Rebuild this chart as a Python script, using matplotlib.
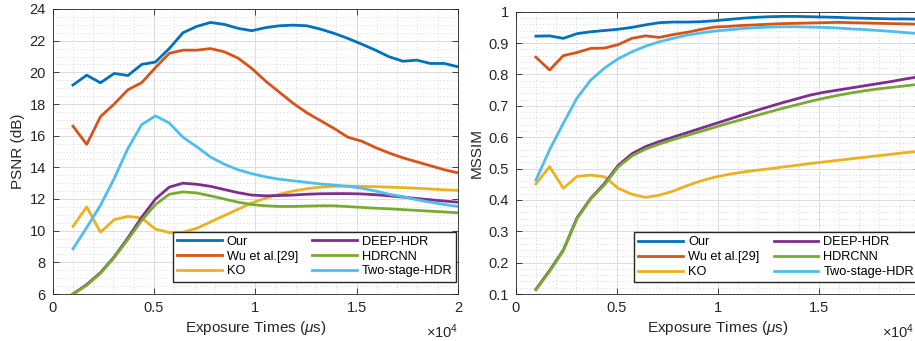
import matplotlib
matplotlib.use("Agg")
import matplotlib.pyplot as plt
from matplotlib.ticker import MultipleLocator, FuncFormatter

plt.rcParams["font.family"] = ["Liberation Sans", "DejaVu Sans"]
plt.rcParams["mathtext.fontset"] = "custom"
plt.rcParams["mathtext.rm"] = "Liberation Sans"
plt.rcParams["mathtext.it"] = "Liberation Sans:italic"

# tiempos de exposicion (us)
exposure = [1000, 1679, 2357, 3036, 3714, 4393, 5071, 5750, 6429, 7107,
            7786, 8464, 9143, 9821, 10500, 11179, 11857, 12536, 13214, 13893,
            14571, 15250, 15929, 16607, 17286, 17964, 18643, 19321, 20000]

labels = ["Our", "Wu et al.[29]", "KO", "DEEP-HDR", "HDRCNN", "Two-stage-HDR"]
colors = ["#0072BD", "#D95319", "#EDB120", "#7E2F8E", "#77AC30", "#4DBEEE"]

psnr_our = [19.2, 19.82, 19.34, 19.93, 19.8, 20.5, 20.65, 21.5, 22.5, 22.9,
            23.15, 23.03, 22.78, 22.63, 22.82, 22.94, 22.98, 22.94, 22.73, 22.46,
            22.14, 21.78, 21.4, 20.98, 20.7, 20.77, 20.56, 20.56, 20.35]
psnr_wu = [16.6, 15.45, 17.2, 18.0, 18.9, 19.35, 20.3, 21.2, 21.4, 21.4,
           21.5, 21.3, 20.9, 20.25, 19.45, 18.75, 18.05, 17.45, 16.95, 16.45,
           15.9, 15.65, 15.25, 14.9, 14.6, 14.35, 14.1, 13.85, 13.65]
psnr_ko = [10.27, 11.5, 9.9, 10.7, 10.9, 10.8, 10.1, 9.88, 9.9, 10.15,
           10.55, 10.95, 11.35, 11.75, 12.05, 12.3, 12.5, 12.65, 12.75, 12.8,
           12.82, 12.8, 12.78, 12.75, 12.72, 12.68, 12.63, 12.58, 12.55]
psnr_deep = [6.0, 6.6, 7.35, 8.35, 9.55, 10.85, 12.0, 12.75, 13.0, 12.93,
             12.8, 12.6, 12.4, 12.25, 12.2, 12.22, 12.25, 12.3, 12.33, 12.34,
             12.34, 12.32, 12.27, 12.2, 12.12, 12.03, 11.95, 11.87, 11.8]
psnr_hdrcnn = [6.0, 6.55, 7.3, 8.3, 9.45, 10.65, 11.65, 12.3, 12.45, 12.38,
               12.2, 12.0, 11.8, 11.65, 11.57, 11.53, 11.53, 11.55, 11.57, 11.57,
               11.52, 11.47, 11.42, 11.38, 11.33, 11.28, 11.23, 11.18, 11.13]
psnr_two = [8.85, 10.2, 11.6, 13.3, 15.2, 16.7, 17.25, 16.8, 15.9, 15.3,
            14.65, 14.2, 13.85, 13.6, 13.4, 13.25, 13.15, 13.05, 12.95, 12.88,
            12.8, 12.68, 12.5, 12.3, 12.15, 11.95, 11.8, 11.65, 11.53]

mssim_our = [0.922, 0.923, 0.915, 0.93, 0.936, 0.94, 0.944, 0.95, 0.958, 0.965,
             0.967, 0.967, 0.968, 0.971, 0.975, 0.979, 0.982, 0.984, 0.985, 0.985,
             0.984, 0.983, 0.982, 0.98, 0.979, 0.978, 0.977, 0.977, 0.976]
mssim_wu = [0.855, 0.814, 0.86, 0.87, 0.883, 0.884, 0.895, 0.915, 0.923, 0.918,
            0.927, 0.934, 0.943, 0.951, 0.953, 0.956, 0.958, 0.96, 0.962, 0.963,
            0.964, 0.965, 0.966, 0.965, 0.964, 0.963, 0.962, 0.961, 0.96]
mssim_ko = [0.451, 0.506, 0.437, 0.475, 0.479, 0.474, 0.437, 0.418, 0.408, 0.415,
            0.428, 0.445, 0.46, 0.472, 0.481, 0.488, 0.494, 0.499, 0.505, 0.51,
            0.516, 0.521, 0.526, 0.531, 0.536, 0.541, 0.546, 0.551, 0.555]
mssim_deep = [0.115, 0.175, 0.24, 0.343, 0.405, 0.452, 0.51, 0.547, 0.57, 0.586,
              0.6, 0.614, 0.628, 0.642, 0.656, 0.67, 0.684, 0.697, 0.71, 0.722,
              0.734, 0.743, 0.75, 0.757, 0.764, 0.771, 0.778, 0.786, 0.793]
mssim_hdrcnn = [0.113, 0.172, 0.238, 0.34, 0.403, 0.448, 0.505, 0.54, 0.562, 0.578,
                0.592, 0.605, 0.618, 0.631, 0.644, 0.656, 0.668, 0.68, 0.692, 0.703,
                0.714, 0.724, 0.733, 0.741, 0.748, 0.754, 0.759, 0.764, 0.769]
mssim_two = [0.463, 0.56, 0.644, 0.725, 0.782, 0.82, 0.85, 0.872, 0.89, 0.904,
             0.915, 0.925, 0.932, 0.938, 0.942, 0.946, 0.949, 0.951, 0.952, 0.952,
             0.951, 0.95, 0.948, 0.945, 0.943, 0.94, 0.937, 0.933, 0.93]

TXT = "#262626"
W, H = 915, 341


def estilo(ax, ymin, ymax, ymaj, ymin_step, ylabel, recortado=False):
    ax.set_xlim(0, 20000)
    ax.set_ylim(ymin, ymax)
    ax.xaxis.set_major_locator(MultipleLocator(5000))
    ax.xaxis.set_minor_locator(MultipleLocator(1000))
    ax.yaxis.set_major_locator(MultipleLocator(ymaj))
    ax.yaxis.set_minor_locator(MultipleLocator(ymin_step))

    def fmt_x(v, p):
        # el panel derecho queda recortado por el borde: sin etiqueta en 2
        if recortado and v >= 20000:
            return ""
        return f"{v / 1e4:g}"

    ax.xaxis.set_major_formatter(FuncFormatter(fmt_x))
    ax.yaxis.set_major_formatter(FuncFormatter(lambda v, p: f"{round(v, 3):g}"))
    ax.tick_params(which="major", direction="in", top=True, right=True,
                   length=4, width=0.6, color=TXT, labelcolor=TXT,
                   labelsize=10.5, pad=5)
    ax.tick_params(which="minor", length=0, top=True, right=True)
    ax.grid(True, which="major", color="#dcdcdc", lw=0.7)
    ax.grid(True, which="minor", color="#c8c8c8", lw=0.6, ls=(0, (1, 3)))
    ax.set_axisbelow(True)
    for s in ax.spines.values():
        s.set_color(TXT)
        s.set_linewidth(0.6)
    ax.set_xlabel(r"Exposure Times ($\mu$s)", fontsize=11, color=TXT,
                  labelpad=3)
    ax.set_ylabel(ylabel, fontsize=11, color=TXT, labelpad=3)
    # multiplicador del eje x; en el panel derecho se pega al borde de la figura
    xm = (W - 1 - ax.get_position().x0 * W) / (ax.get_position().width * W) \
        if recortado else 1.0
    ax.text(xm, -0.1, r"$\times10^4$", transform=ax.transAxes,
            ha="right", va="top", fontsize=10.5, color=TXT)


def leyenda(ax, x0, y0):
    ax.legend(loc="upper left", bbox_to_anchor=(x0 / W, 1 - y0 / H),
              bbox_transform=ax.figure.transFigure, ncol=2, fontsize=9.2,
              frameon=True, fancybox=False, framealpha=1, edgecolor="#262626",
              handlelength=3.5, handletextpad=0.4, columnspacing=1.1,
              labelspacing=0.22, borderpad=0.32, borderaxespad=0)


fig = plt.figure(figsize=(W / 100, H / 100), dpi=100)
ax1 = fig.add_axes([52.7 / W, 47 / H, (458 - 52.7) / W, 285 / H])
ax2 = fig.add_axes([515.7 / W, 47 / H, (919.7 - 515.7) / W, 282.3 / H])

series1 = [psnr_our, psnr_wu, psnr_ko, psnr_deep, psnr_hdrcnn, psnr_two]
series2 = [mssim_our, mssim_wu, mssim_ko, mssim_deep, mssim_hdrcnn, mssim_two]

for ys, lab, c in zip(series1, labels, colors):
    ax1.plot(exposure, ys, color=c, lw=2.0, label=lab)
for ys, lab, c in zip(series2, labels, colors):
    ax2.plot(exposure, ys, color=c, lw=2.0, label=lab)

estilo(ax1, 6, 24, 2, 0.5, "PSNR (dB)")
estilo(ax2, 0.1, 1.0, 0.1, 0.02, "MSSIM", recortado=True)
leyenda(ax1, 172.7, 231.7)
leyenda(ax2, 634.3, 232.3)

fig.savefig("out.png", dpi=100)
